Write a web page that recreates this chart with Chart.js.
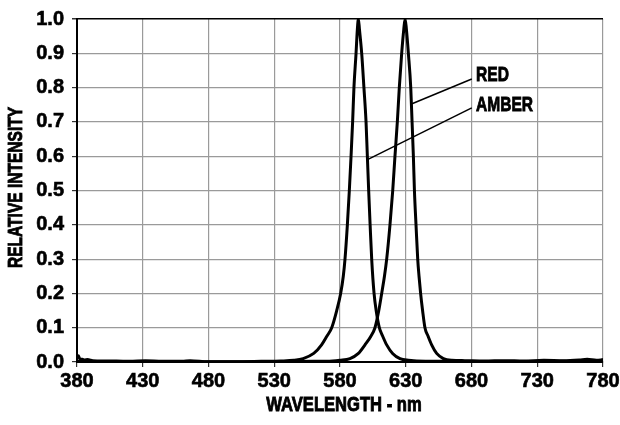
<!DOCTYPE html>
<html>
<head>
<meta charset="utf-8">
<script src="https://cdn.jsdelivr.net/npm/chart.js@4/dist/chart.umd.min.js"></script>
<style>
  html, body { margin: 0; padding: 0; background: #fff; }
  #wrap { width: 620px; height: 425px; }
</style>
</head>
<body>
<div id="wrap"><canvas id="spectrum" width="620" height="425"></canvas></div>
<script>
// 波长 (nm) 与相对强度
const amberNm = [380, 381, 382, 384, 386, 388, 392, 400, 410, 420,
  432, 445, 460, 466, 480, 500, 520, 535, 545, 552,
  560, 566, 570, 573.7, 577.5, 580.5, 582.5, 583.8, 585.6, 587.1,
  588.4, 589.6, 590.6, 592.2, 593.2, 594, 594.8, 596.5, 598.2, 599.8,
  600.8, 601.8, 602.9, 604.1, 605.9, 607.5, 609.9, 612.5, 615.5, 620,
  625.6, 632, 645, 660, 700, 740, 780];
const amberVal = [0.012, 0.018, 0.01, 0.008, 0.006, 0.007, 0.004, 0.003, 0.003, 0.002,
  0.004, 0.002, 0.002, 0.004, 0.001, 0.001, 0.002, 0.003, 0.005, 0.01,
  0.025, 0.05, 0.075, 0.1, 0.15, 0.2, 0.25, 0.3, 0.4, 0.5,
  0.6, 0.7, 0.8, 0.9, 0.97, 1.0, 0.97, 0.9, 0.8, 0.7,
  0.6, 0.5, 0.4, 0.3, 0.2, 0.15, 0.1, 0.075, 0.05, 0.025,
  0.01, 0.005, 0.002, 0.002, 0.001, 0.002, 0.002];

const redNm = [380, 420, 480, 530, 560, 570, 580, 587.6, 594, 599,
  603.5, 606.6, 609.5, 611.7, 613.8, 615.5, 618, 620.1, 621.8, 623.6,
  625.1, 626.9, 628.5, 629.5, 630.5, 632, 633.8, 634.8, 635.8, 636.6,
  637.8, 639.1, 640.1, 641.3, 642.8, 644.6, 647, 649.7, 653.5, 658.6,
  665, 675, 690, 705, 720, 735, 750, 762, 768, 775, 780];
const redVal = [0.002, 0.001, 0.001, 0.001, 0.002, 0.002, 0.005, 0.01, 0.025, 0.05,
  0.075, 0.1, 0.15, 0.2, 0.25, 0.3, 0.4, 0.5, 0.6, 0.7,
  0.8, 0.9, 0.97, 1.0, 0.97, 0.9, 0.8, 0.7, 0.6, 0.5,
  0.4, 0.3, 0.25, 0.2, 0.15, 0.1, 0.075, 0.05, 0.025, 0.01,
  0.005, 0.004, 0.003, 0.004, 0.003, 0.005, 0.004, 0.006, 0.008, 0.005, 0.007];

// 坐标轴范围
const xMin = 380, xMax = 780, xStep = 50;
const yMin = 0, yMax = 1, yStep = 0.1;
const xTitle = 'WAVELENGTH - nm';
const yTitle = 'RELATIVE INTENSITY';

// 曲线标注: 文字位置和引线 (数据坐标)
const seriesLabels = ['RED', 'AMBER'];
const labelAt = [[683.5, 0.837], [683.5, 0.749]];
const leaderFrom = [[680.2, 0.825], [680.2, 0.741]];
const leaderTo = [[634.3, 0.752], [600.9, 0.59]];

const FONT = "'Liberation Sans', Arial, sans-serif";

function toPoints(xs, ys) {
  return xs.map((x, i) => ({ x: x, y: ys[i] }));
}

// 窄体字: 水平压缩后再写, 描一圈细边加粗
function narrowText(c, text, x, y, sx, size, align, angle) {
  c.save();
  c.translate(x, y);
  if (angle) c.rotate(angle);
  c.scale(sx, 1);
  c.font = 'bold ' + size + 'px ' + FONT;
  c.fillStyle = '#000';
  c.strokeStyle = '#000';
  c.lineWidth = 0.9;
  c.textAlign = align;
  c.textBaseline = 'middle';
  c.fillText(text, 0, 0);
  c.strokeText(text, 0, 0);
  c.restore();
}

// 坐标轴标题、引线和曲线名称
const textPlugin = {
  id: 'narrowText',
  afterDatasetsDraw(chart) {
    const c = chart.ctx;
    const sx = chart.scales.x, sy = chart.scales.y;
    const area = chart.chartArea;

    narrowText(c, xTitle, (area.left + area.right) / 2 + 4, 405, 0.79, 21, 'center', 0);
    narrowText(c, yTitle, 16, (area.top + area.bottom) / 2 - 3, 0.74, 21, 'center', -Math.PI / 2);

    c.save();
    c.strokeStyle = '#000';
    c.lineWidth = 1.5;
    for (let i = 0; i < seriesLabels.length; i++) {
      c.beginPath();
      c.moveTo(sx.getPixelForValue(leaderFrom[i][0]), sy.getPixelForValue(leaderFrom[i][1]));
      c.lineTo(sx.getPixelForValue(leaderTo[i][0]), sy.getPixelForValue(leaderTo[i][1]));
      c.stroke();
    }
    c.restore();
    for (let i = 0; i < seriesLabels.length; i++) {
      narrowText(c, seriesLabels[i], sx.getPixelForValue(labelAt[i][0]),
        sy.getPixelForValue(labelAt[i][1]), 0.74, 21, 'left', 0);
    }
  }
};

const lineStyle = {
  borderColor: '#000',
  borderWidth: 3,
  pointRadius: 0,
  fill: false,
  cubicInterpolationMode: 'monotone'
};

const tickFont = { family: FONT, size: 20, weight: 'bold' };

new Chart(document.getElementById('spectrum'), {
  type: 'line',
  data: {
    datasets: [
      Object.assign({ label: 'AMBER', data: toPoints(amberNm, amberVal) }, lineStyle),
      Object.assign({ label: 'RED', data: toPoints(redNm, redVal) }, lineStyle)
    ]
  },
  options: {
    responsive: false,
    animation: false,
    events: [],
    layout: { padding: { left: 0, top: 19, right: 17, bottom: 13 } },
    plugins: {
      legend: { display: false },
      tooltip: { enabled: false }
    },
    scales: {
      x: {
        type: 'linear',
        min: xMin,
        max: xMax,
        ticks: {
          stepSize: xStep,
          padding: 2,
          color: '#000',
          textStrokeColor: '#000',
          textStrokeWidth: 0.6,
          font: tickFont
        },
        grid: {
          color: '#9a9a9a',
          lineWidth: 1.2,
          tickLength: 5,
          tickColor: '#333'
        },
        border: { color: '#000', width: 2 },
        afterFit(scale) {
          scale.height = 50;
          scale.paddingLeft = 0;
          scale.paddingRight = 0;
        }
      },
      y: {
        min: yMin,
        max: yMax,
        ticks: {
          stepSize: yStep,
          padding: 8,
          color: '#000',
          textStrokeColor: '#000',
          textStrokeWidth: 0.6,
          font: tickFont,
          callback: v => v.toFixed(1)
        },
        grid: {
          color: ctx => (ctx.tick && ctx.tick.value === yMax ? '#000' : '#9a9a9a'),
          lineWidth: ctx => (ctx.tick && ctx.tick.value === yMax ? 1.5 : 1.2),
          tickLength: 5,
          tickColor: '#333'
        },
        border: { color: '#000', width: 2 },
        afterFit(scale) {
          scale.width = 77;
          scale.paddingTop = 0;
          scale.paddingBottom = 0;
        }
      }
    }
  },
  plugins: [textPlugin]
});
</script>
</body>
</html>
